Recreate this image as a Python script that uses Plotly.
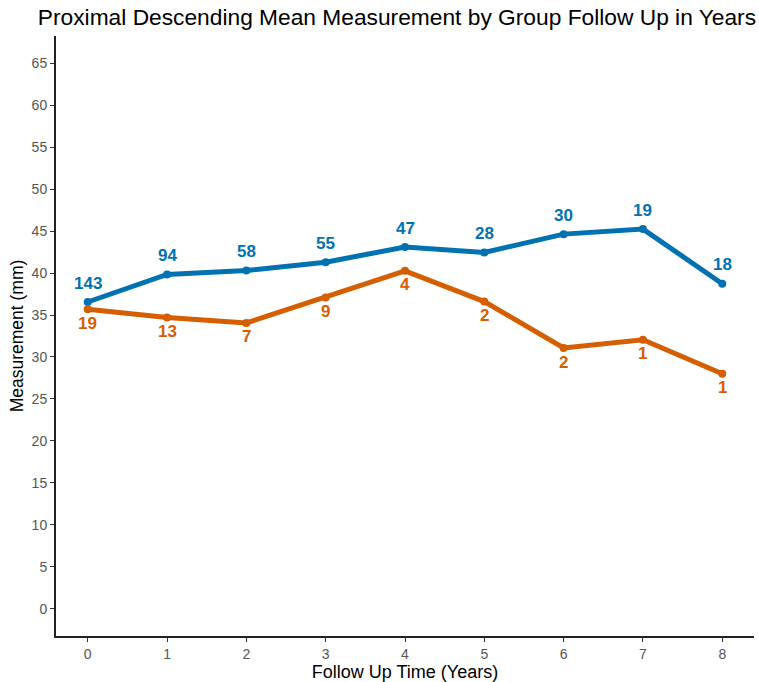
import plotly.graph_objects as go

# Follow-up years
years = [0, 1, 2, 3, 4, 5, 6, 7, 8]

# Group A (blue): mean measurement and patient counts
blue_mean = [36.55, 39.83, 40.3, 41.3, 43.1, 42.45, 44.64, 45.24, 38.73]
blue_n = [143, 94, 58, 55, 47, 28, 30, 19, 18]

# Group B (orange): mean measurement and patient counts
orange_mean = [35.7, 34.7, 34.05, 37.1, 40.27, 36.6, 31.07, 32.06, 28.0]
orange_n = [19, 13, 7, 9, 4, 2, 2, 1, 1]

y_ticks = list(range(0, 70, 5))

BLUE = "#0072B2"
ORANGE = "#D55E00"
FONT = "Liberation Sans, Arial, sans-serif"

fig = go.Figure()
for ys, color in [(blue_mean, BLUE), (orange_mean, ORANGE)]:
    fig.add_trace(go.Scatter(
        x=years, y=ys, mode="lines+markers",
        line=dict(color=color, width=5),
        marker=dict(color=color, size=8),
        showlegend=False, hoverinfo="skip",
    ))

annotations = []
for x, y, n in zip(years, blue_mean, blue_n):
    annotations.append(dict(x=x, y=y, text=str(n), showarrow=False,
                            yshift=19, font=dict(color=BLUE, size=17, family=FONT, weight="bold")))
for x, y, n in zip(years, orange_mean, orange_n):
    annotations.append(dict(x=x, y=y, text=str(n), showarrow=False,
                            yshift=-14, font=dict(color=ORANGE, size=17, family=FONT, weight="bold")))

axis_common = dict(
    showgrid=False, zeroline=False, showline=True, linecolor="#222222", linewidth=2,
    ticks="outside", ticklen=4, tickwidth=1.3, tickcolor="#333333",
    tickfont=dict(color="#555555", size=14, family=FONT),
)

fig.update_layout(
    width=759, height=682,
    paper_bgcolor="white", plot_bgcolor="white",
    margin=dict(l=56, r=5, t=36, b=46),
    font=dict(family=FONT),
    title=dict(text="Proximal Descending Mean Measurement by Group Follow Up in Years",
               x=0.523, xanchor="center", y=0.975, yanchor="middle",
               font=dict(size=22.75, color="black", family=FONT)),
    xaxis=dict(range=[-0.4, 8.4], tickvals=years,
               title=dict(text="Follow Up Time (Years)", standoff=3,
                          font=dict(size=18, color="black", family=FONT)),
               **axis_common),
    yaxis=dict(range=[-3.25, 68.25], tickvals=y_ticks,
               title=dict(text="Measurement (mm)", standoff=3,
                          font=dict(size=17.5, color="black", family=FONT)),
               **axis_common),
    annotations=annotations,
)

fig.write_html("out.html")
